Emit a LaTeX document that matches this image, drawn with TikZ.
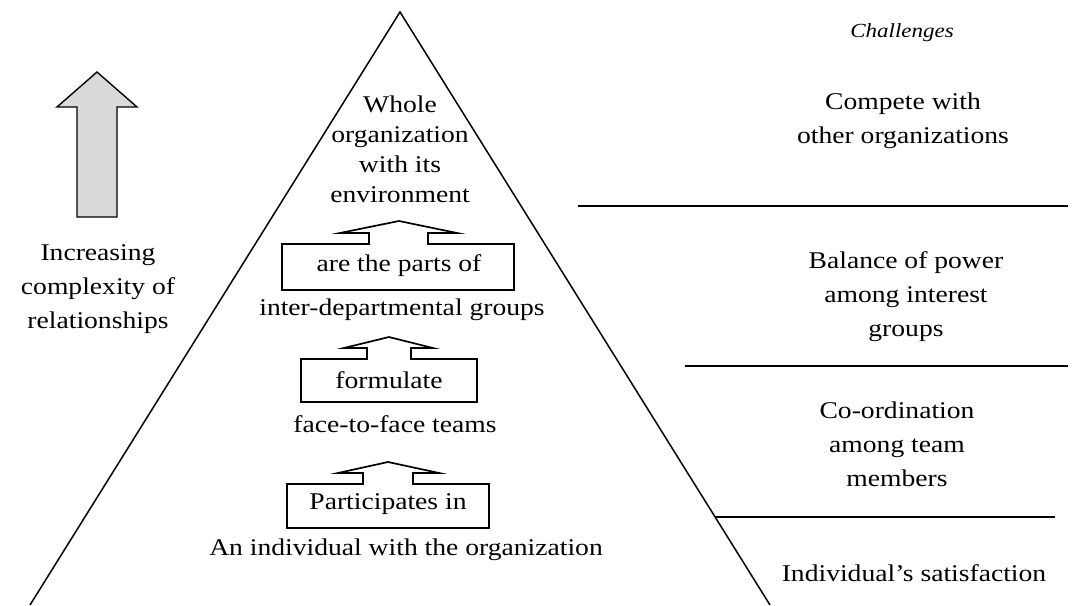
\documentclass[tikz,border=0pt]{standalone}
\usepackage{fontspec}
\setmainfont{Liberation Serif}[FakeStretch=1.15]
\begin{document}
\begin{tikzpicture}[x=1pt,y=-1pt,
  lbl/.style={inner sep=0pt,align=center,font=\fontsize{24}{30}\selectfont},
  rlbl/.style={inner sep=0pt,align=center,font=\fontsize{24}{34}\selectfont},
  outl/.style={line width=1.7pt,line join=miter},
  sepline/.style={line width=1.8pt}]
\useasboundingbox (0,0) rectangle (1075,605);
% pyramid
\draw[outl,line width=1.5pt] (30,605) -- (400,12) -- (770,605);
% big arrow
\draw[outl,line width=1.4pt,fill=gray!30] (97,72) -- (137,107) -- (117,107) -- (117,217) -- (77,217) -- (77,107) -- (57,107) -- cycle;
% box 1 with arrow
\draw[outl] (282,290) -- (282,244) -- (369,244) -- (369,233) -- (340,233) -- (399,221) -- (457,233) -- (428,233) -- (428,244) -- (514,244) -- (514,290) -- cycle;
% box 2
\draw[outl] (301,402) -- (301,359) -- (367,359) -- (367,348) -- (344,348) -- (389,337) -- (433,348) -- (411,348) -- (411,359) -- (477,359) -- (477,402) -- cycle;
% box 3
\draw[outl] (287,528) -- (287,484) -- (363,484) -- (363,473) -- (338,473) -- (388,462) -- (439,473) -- (413,473) -- (413,484) -- (489,484) -- (489,528) -- cycle;
% separators
\draw[sepline] (578,206) -- (1068,206);
\draw[sepline] (685,366) -- (1068,366);
\draw[sepline] (715,517) -- (1055,517);
% texts
\node[lbl] (whole) at (400,149) {Whole\\organization\\with its\\environment};
\node[lbl] (parts) at (399,266) {are the parts of};
\node[lbl] (inter) at (402,310) {inter-departmental groups};
\node[lbl] (form) at (389,380) {formulate};
\node[lbl] (face) at (395,424) {face-to-face teams};
\node[lbl] (part) at (388,504) {Participates in};
\node[lbl] (indiv) at (406,550) {An individual with the organization};
\node[lbl,font=\fontsize{20}{24}\selectfont\itshape] (chal) at (902,33) {Challenges};
\node[rlbl] (comp) at (903,121) {Compete with\\other organizations};
\node[rlbl] (bal) at (906,297) {Balance of power\\among interest\\groups};
\node[rlbl] (coord) at (897,444) {Co-ordination\\among team\\members};
\node[rlbl] (sat) at (914,573) {Individual's satisfaction};
\node[rlbl] (incr) at (98,289) {Increasing\\complexity of\\relationships};
\end{tikzpicture}
\end{document}
